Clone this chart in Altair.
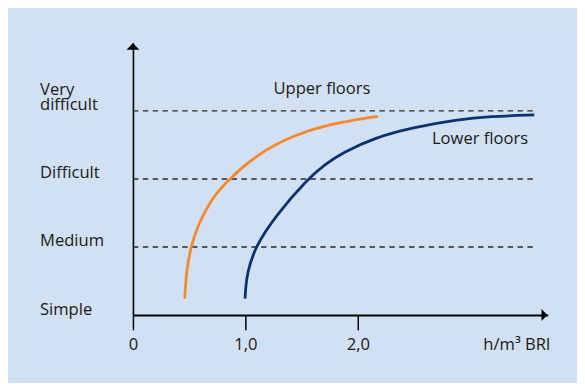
import altair as alt
import pandas as pd

# ---- data ----
levels = [0, 1, 2, 3]
level_labels = ["Simple", "Medium", "Difficult", "Very difficult"]
x_ticks = [0, 1, 2]

upper_x = [0.461, 0.466, 0.476, 0.514, 0.573, 0.69, 0.84, 1.128, 1.421, 1.713, 2.18]
upper_y = [0.24, 0.40, 0.63, 1.0, 1.30, 1.69, 1.98, 2.39, 2.63, 2.80, 2.92]

lower_x = [0.997, 1.003, 1.015, 1.084, 1.275, 1.553, 1.713, 1.86, 2.152, 2.503, 2.88, 3.175, 3.57]
lower_y = [0.24, 0.40, 0.60, 1.0, 1.47, 2.0, 2.22, 2.38, 2.61, 2.76, 2.87, 2.92, 2.94]

dash_levels = [1, 2, 3]
dash_end = 3.56

annot_text = ["Upper floors", "Lower floors"]
annot_x = [1.25, 2.66]
annot_y = [3.25, 2.51]

unit_text = "h/m³ BRI"

ORANGE = "#f5892c"
BLUE = "#0b3270"
BG = "#d1e0f2"
INK = "#1a1a1a"
FONT = "Open Sans"
FS = 16.8

XMAX = 3.69
YMAX = 4.0
W = XMAX * 114
H = YMAX * 69

xs = alt.Scale(domain=[0, XMAX], nice=False, zero=False)
ys = alt.Scale(domain=[0, YMAX], nice=False, zero=False)

curves = pd.DataFrame(
    {"x": upper_x + lower_x, "y": upper_y + lower_y,
     "s": ["Upper floors"] * len(upper_x) + ["Lower floors"] * len(lower_x),
     "i": list(range(len(upper_x))) + list(range(len(lower_x)))}
)

label_js = "{" + ", ".join(f"'{v}': '{t}'" for v, t in zip(levels, level_labels)) + "}"

axis_df = pd.DataFrame({"x": [0.0], "y": [0.0]})
axes = alt.Chart(axis_df).mark_point(opacity=0).encode(
    x=alt.X("x:Q", scale=xs, title=None,
            axis=alt.Axis(values=x_ticks, tickSize=15, tickWidth=1.5, tickColor="black",
                          domainColor="black", domainWidth=2.2, grid=False,
                          labelExpr="datum.value == 0 ? '0' : replace(format(datum.value, '.1f'), '.', ',')",
                          labelBaseline="alphabetic", labelPadding=20, labelFont=FONT,
                          labelFontSize=FS, labelColor=INK, labelFlush=False, labelOverlap=False)),
    y=alt.Y("y:Q", scale=ys, title=None,
            axis=alt.Axis(values=levels, ticks=False, domainColor="black", domainWidth=1.6,
                          grid=False,
                          labelExpr=f"split({label_js}[datum.value + ''], datum.value == 3 ? ' ' : '|')",
                          labelAlign="left", labelBaseline="alphabetic",
                          labelOffset={"condition": {"test": "datum.value == 3", "value": -17}, "value": -1},
                          labelPadding=94.7, labelFont=FONT, labelFontSize=FS,
                          labelColor=INK, labelLineHeight=16, labelFlush=False,
                          labelOverlap=False)),
)

dash_df = pd.DataFrame({"y": dash_levels, "x0": [0] * len(dash_levels), "x1": [dash_end] * len(dash_levels)})
dashes = alt.Chart(dash_df).mark_rule(color="#2b2b2b", strokeWidth=1.5, strokeDash=[5.5, 4.5]).encode(
    x=alt.X("x0:Q", scale=xs), x2="x1:Q", y=alt.Y("y:Q", scale=ys)
)

lines = alt.Chart(curves).mark_line(strokeWidth=2.8, interpolate="basis").encode(
    x=alt.X("x:Q", scale=xs),
    y=alt.Y("y:Q", scale=ys),
    color=alt.Color("s:N", scale=alt.Scale(domain=["Upper floors", "Lower floors"], range=[ORANGE, BLUE]), legend=None),
    order="i:Q",
)

annot_df = pd.DataFrame({"t": annot_text, "x": annot_x, "y": annot_y})
annots = alt.Chart(annot_df).mark_text(align="left", baseline="alphabetic", font=FONT, fontSize=FS, color=INK).encode(
    x=alt.X("x:Q", scale=xs), y=alt.Y("y:Q", scale=ys), text="t:N"
)

unit_df = pd.DataFrame({"t": [unit_text], "x": [3.714], "y": [-0.516]})
unit = alt.Chart(unit_df).mark_text(align="right", baseline="alphabetic", font=FONT, fontSize=FS, color=INK).encode(
    x=alt.X("x:Q", scale=xs), y=alt.Y("y:Q", scale=ys), text="t:N"
)

yarrow = alt.Chart(pd.DataFrame({"x": [0.0], "y": [3.9]})).mark_point(
    shape="M-1,0L1,0L0,-1Z", filled=True, color="black", opacity=1, size=169
).encode(x=alt.X("x:Q", scale=xs), y=alt.Y("y:Q", scale=ys))

xarrow = alt.Chart(pd.DataFrame({"x": [3.634], "y": [0.0]})).mark_point(
    shape="M0,-1L1,0L0,1Z", filled=True, color="black", opacity=1, size=144
).encode(x=alt.X("x:Q", scale=xs), y=alt.Y("y:Q", scale=ys))

chart = alt.layer(axes, dashes, lines, annots, unit, yarrow, xarrow).properties(
    width=W, height=H,
    autosize=alt.AutoSizeParams(type="none"),
    padding={"left": 126.7, "top": 32.7, "right": 577 - 126.7 - W, "bottom": 66},
    background=BG,
).configure_view(strokeWidth=0)

chart.save("out.html", embed_options={"renderer": "svg", "actions": False})
